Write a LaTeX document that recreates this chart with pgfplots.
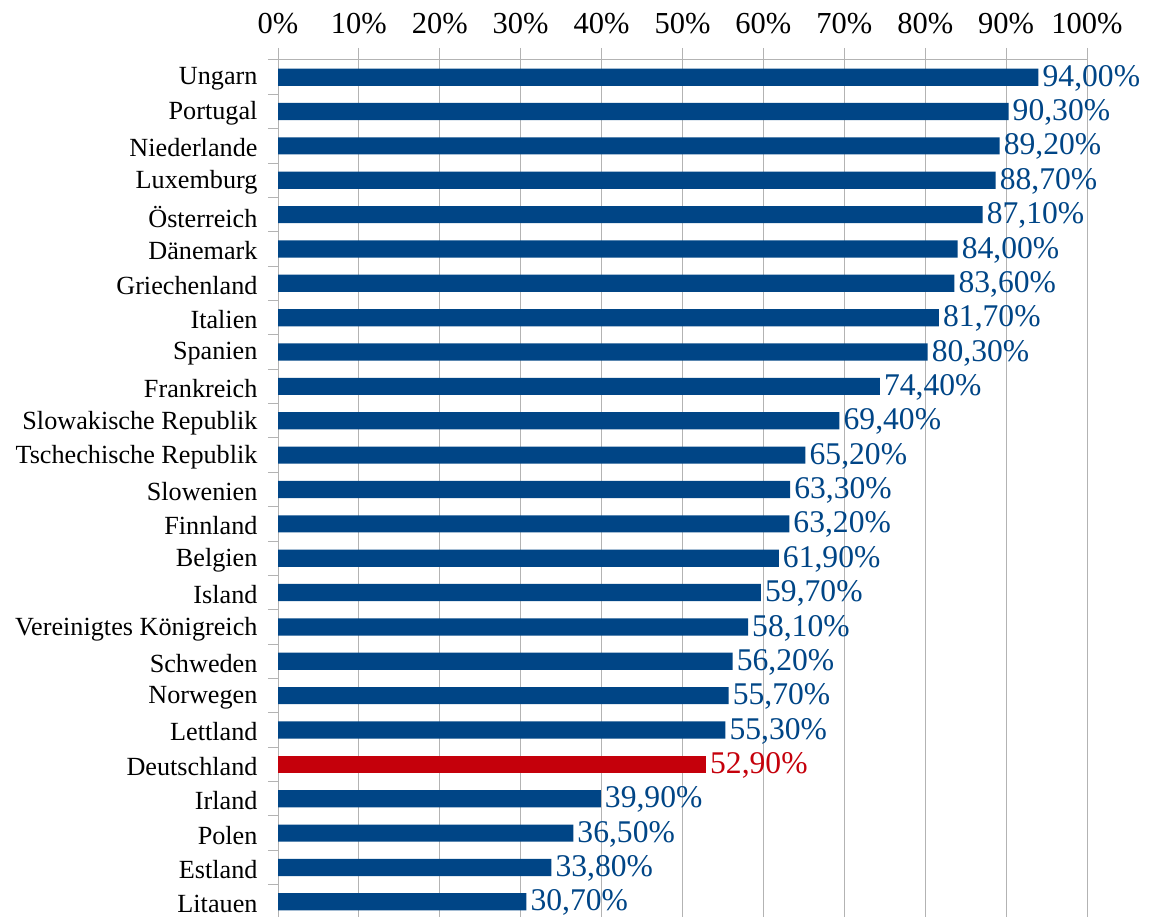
\documentclass[border=0pt]{standalone}
\usepackage{fontspec}
\setmainfont{Liberation Serif}
\usepackage{pgfplots}
\pgfplotsset{compat=1.18}
\definecolor{barblue}{HTML}{004586}
\definecolor{barred}{HTML}{C5000B}
\definecolor{gridgray}{HTML}{B3B3B3}
\begin{document}
\begin{tikzpicture}
\useasboundingbox (0,0) rectangle (1151pt,917pt);
\begin{axis}[
  at={(278pt,857pt)}, anchor=north west,
  scale only axis, width=809pt, height=859pt,
  xbar, bar width=0.5, bar shift=0pt,
  xmin=0, xmax=100, ymin=-0.5, ymax=24.5,
  axis x line*=top, axis y line*=left,
  axis line style={-, draw=gridgray, line width=1pt},
  xtick={0,10,...,100},
  xticklabels={0\%,10\%,20\%,30\%,40\%,50\%,60\%,70\%,80\%,90\%,100\%},
  xticklabel style={font=\fontsize{30.5}{34}\selectfont, text=black, yshift=11pt},
  xmajorgrids, grid style={draw=gridgray, line width=1pt},
  tick align=outside,
  major tick length=12pt, minor tick length=10pt,
  major x tick style={draw=gridgray, line width=1pt},
  major y tick style={draw=none},
  minor y tick style={draw=gridgray, line width=1pt},
  ytick={0,...,24},
  minor ytick={-0.5,0.5,...,24.5},
  yticklabels={Litauen,Estland,Polen,Irland,Deutschland,Lettland,Norwegen,Schweden,Vereinigtes Königreich,Island,Belgien,Finnland,Slowenien,Tschechische Republik,Slowakische Republik,Frankreich,Spanien,Italien,Griechenland,Dänemark,Österreich,Luxemburg,Niederlande,Portugal,Ungarn},
  yticklabel style={font=\fontsize{26.2}{28}\selectfont, text=black, xshift=-5pt, yshift=-2pt},
  point meta=x,
  /pgf/number format/assume math mode=true,
  nodes near coords={\pgfmathprintnumber[fixed,fixed zerofill,precision=2,use comma]{\pgfplotspointmeta}\%},
  nodes near coords style={font=\fontsize{31.6}{34}\selectfont, inner sep=4pt, yshift=-1pt},
  clip=false,
]
\addplot[fill=barblue, draw=none, nodes near coords style={text=barblue}] coordinates {
(30.7,0) (33.8,1) (36.5,2) (39.9,3)
(55.3,5) (55.7,6) (56.2,7) (58.1,8) (59.7,9) (61.9,10) (63.2,11) (63.3,12)
(65.2,13) (69.4,14) (74.4,15) (80.3,16) (81.7,17) (83.6,18) (84.0,19)
(87.1,20) (88.7,21) (89.2,22) (90.3,23) (94.0,24)
};
\addplot[fill=barred, draw=none, nodes near coords style={text=barred}] coordinates {
(52.9,4)
};
\end{axis}
\end{tikzpicture}
\end{document}
